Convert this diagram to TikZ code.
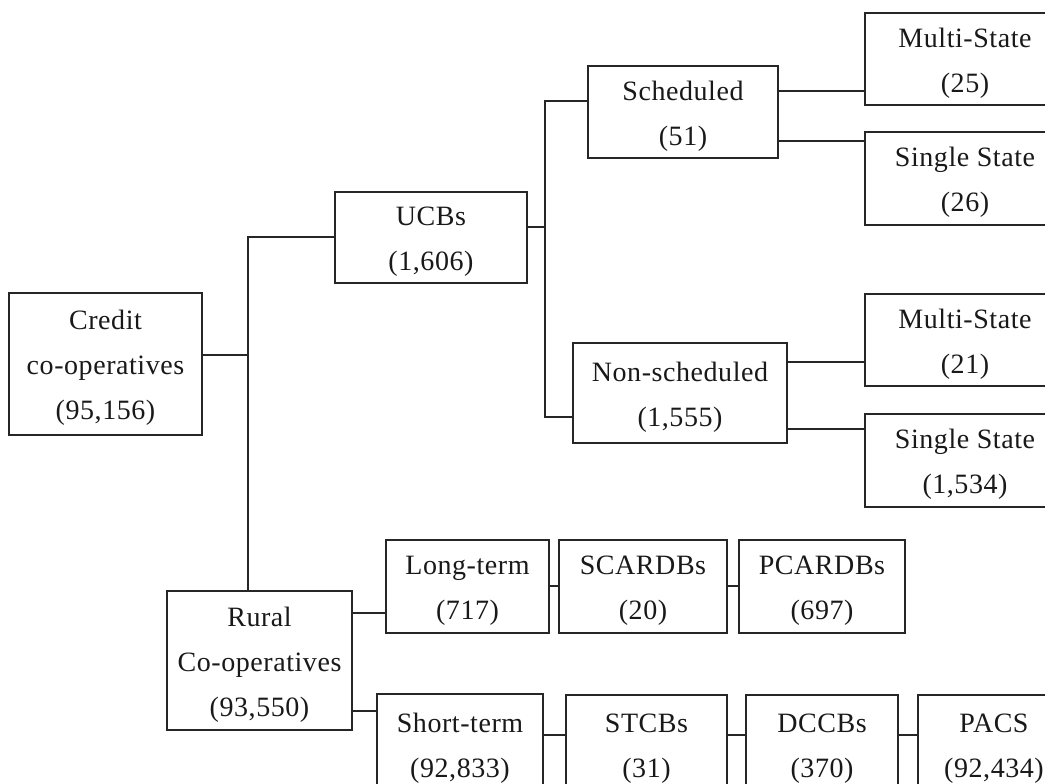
\documentclass[tikz,border=0pt]{standalone}
\usepackage{fontspec}
\setmainfont[LetterSpace=2]{Liberation Serif}
\begin{document}
\begin{tikzpicture}[x=0.5pt,y=-0.5pt,
  box/.style={draw=black!85, line width=0.9pt, inner sep=0pt},
  boxtext/.style={align=center, inner sep=0pt, yshift=-2pt,
    font=\fontsize{14pt}{22.5pt}\selectfont, text=black!90},
  conn/.style={draw=black!85, line width=0.9pt}]
\clip (0,0) rectangle (1045,783);
\fill[white] (0,0) rectangle (1045,783);
% nodes
\node[box, minimum width=96.5pt, minimum height=71pt, label={[boxtext]center:{Credit\\co-operatives\\(95,156)}}] (credit) at (105.5,364) {};
\node[box, minimum width=96pt, minimum height=45.5pt, label={[boxtext]center:{UCBs\\(1,606)}}] (ucbs) at (431,237.5) {};
\node[box, minimum width=95pt, minimum height=46pt, label={[boxtext]center:{Scheduled\\(51)}}] (sched) at (683,112) {};
\node[box, minimum width=107pt, minimum height=50pt, label={[boxtext]center:{Non-scheduled\\(1,555)}}] (nonsched) at (680,393) {};
\node[box, minimum width=100pt, minimum height=46pt, label={[boxtext]center:{Multi-State\\(25)}}] (ms1) at (965,59) {};
\node[box, minimum width=100pt, minimum height=46.5pt, label={[boxtext]center:{Single State\\(26)}}] (ss1) at (965,178.5) {};
\node[box, minimum width=100pt, minimum height=46pt, label={[boxtext]center:{Multi-State\\(21)}}] (ms2) at (965,340) {};
\node[box, minimum width=100pt, minimum height=46.5pt, label={[boxtext]center:{Single State\\(1,534)}}] (ss2) at (965,460.5) {};
\node[box, minimum width=92.5pt, minimum height=69.5pt, label={[boxtext]center:{Rural\\Co-operatives\\(93,550)}}] (rural) at (259.5,660.5) {};
\node[box, minimum width=81.5pt, minimum height=46.5pt, label={[boxtext]center:{Long-term\\(717)}}] (longterm) at (467.5,586.5) {};
\node[box, minimum width=84pt, minimum height=46.5pt, label={[boxtext]center:{SCARDBs\\(20)}}] (scardbs) at (643,586.5) {};
\node[box, minimum width=83pt, minimum height=46.5pt, label={[boxtext]center:{PCARDBs\\(697)}}] (pcardbs) at (822,586.5) {};
\node[box, minimum width=83pt, minimum height=50pt, label={[boxtext]center:{Short-term\\(92,833)}}] (shortterm) at (460,744) {};
\node[box, minimum width=80.5pt, minimum height=50pt, label={[boxtext]center:{STCBs\\(31)}}] (stcbs) at (646.5,745) {};
\node[box, minimum width=76pt, minimum height=50pt, label={[boxtext]center:{DCCBs\\(370)}}] (dccbs) at (822,745) {};
\node[box, minimum width=76pt, minimum height=50pt, label={[boxtext]center:{PACS\\(92,434)}}] (pacs) at (994,745) {};
% junction coordinates
\coordinate (j1) at (248,355);
\coordinate (jt) at (248,237);
\coordinate (j2) at (545,227);
\coordinate (j3) at (545,101);
\coordinate (j4) at (545,417);
\coordinate (s1) at (865,91);
\coordinate (s2) at (865,141);
\coordinate (s3) at (865,362);
\coordinate (s4) at (865,429);
\coordinate (r1) at (0,613);
\coordinate (r2) at (0,711);
\coordinate (l1) at (0,586);
\coordinate (l2) at (0,735);
% connectors
\draw[conn] (j1 -| credit.east) -- (j1);
\draw[conn] (ucbs.west |- jt) -- (jt) -- (rural.north -| jt);
\draw[conn] (j2 -| ucbs.east) -- (j2);
\draw[conn] (j3 -| sched.west) -- (j3) -- (j4) -- (j4 -| nonsched.west);
\draw[conn] (s1 -| sched.east) -- (s1 -| ms1.west);
\draw[conn] (s2 -| sched.east) -- (s2 -| ss1.west);
\draw[conn] (s3 -| nonsched.east) -- (s3 -| ms2.west);
\draw[conn] (s4 -| nonsched.east) -- (s4 -| ss2.west);
\draw[conn] (r1 -| rural.east) -- (r1 -| longterm.west);
\draw[conn] (r2 -| rural.east) -- (r2 -| shortterm.west);
\draw[conn] (l1 -| longterm.east) -- (l1 -| scardbs.west);
\draw[conn] (l1 -| scardbs.east) -- (l1 -| pcardbs.west);
\draw[conn] (l2 -| shortterm.east) -- (l2 -| stcbs.west);
\draw[conn] (l2 -| stcbs.east) -- (l2 -| dccbs.west);
\draw[conn] (l2 -| dccbs.east) -- (l2 -| pacs.west);
\end{tikzpicture}
\end{document}
